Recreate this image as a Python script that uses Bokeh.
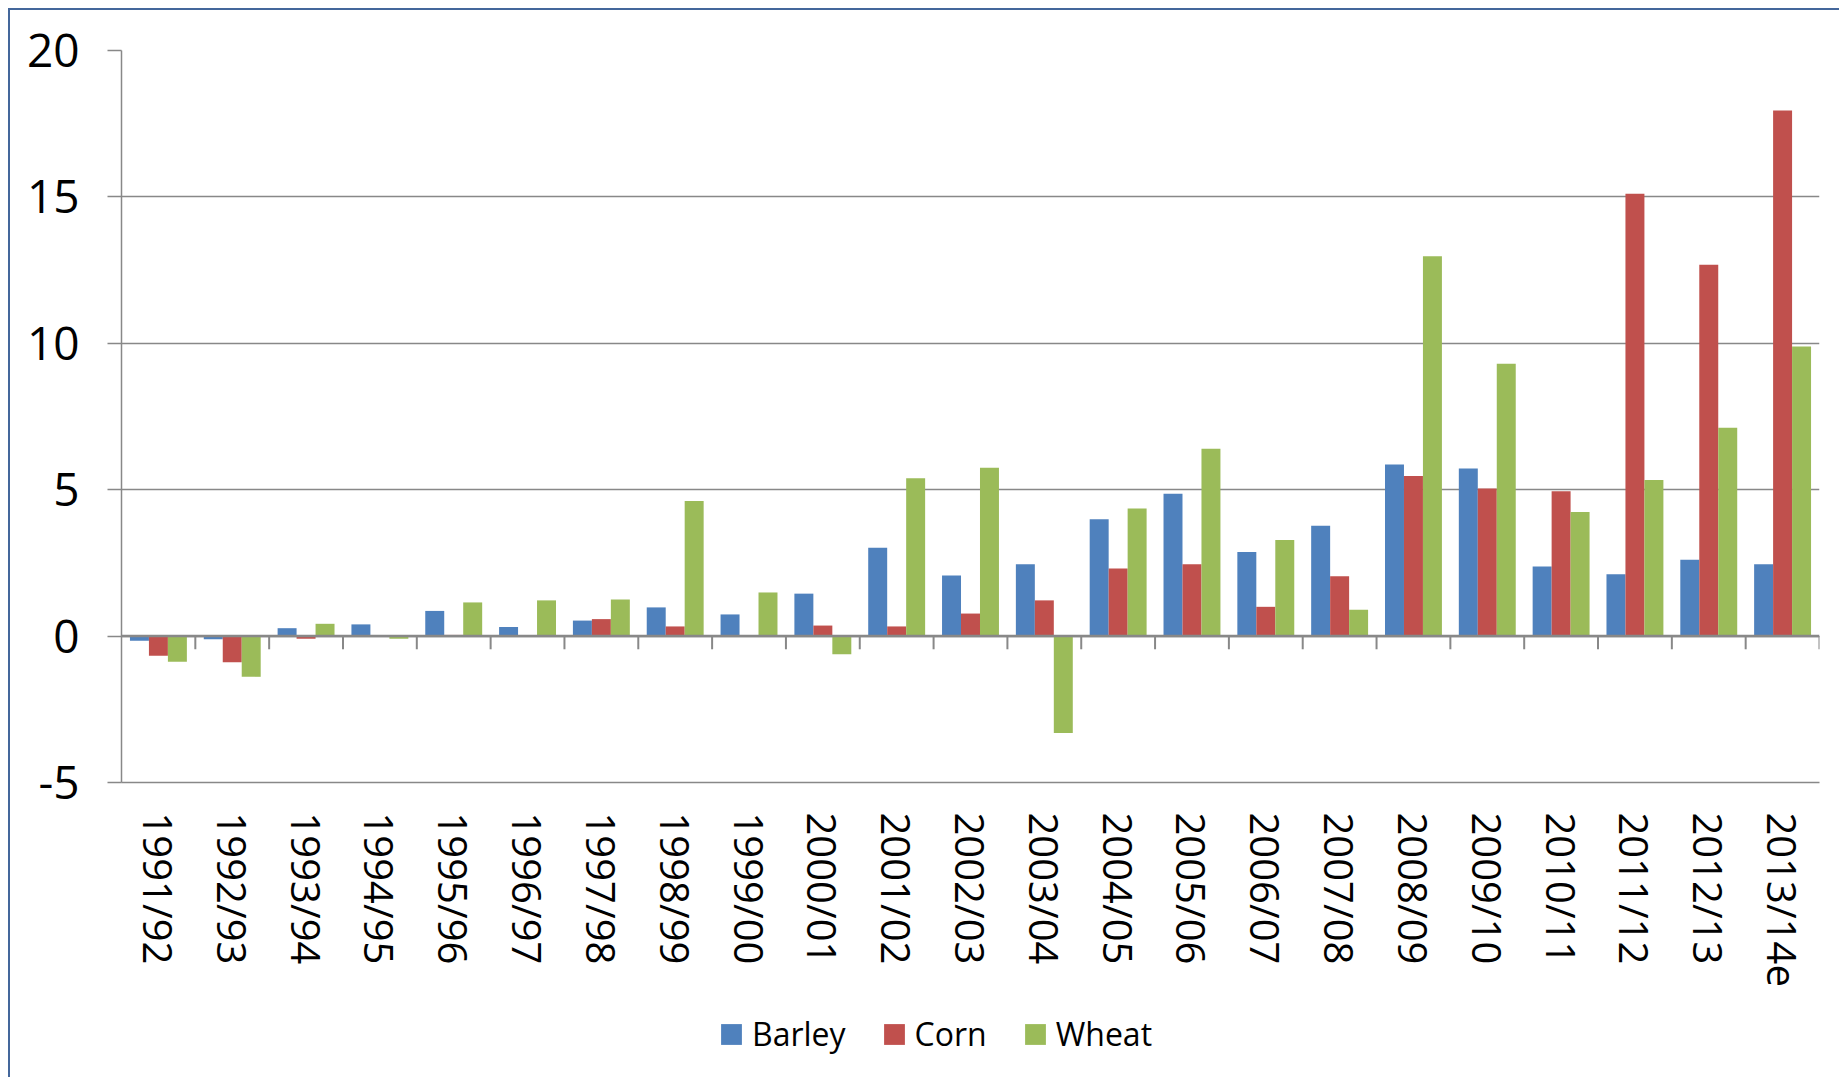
import math
from bokeh.plotting import figure
from bokeh.layouts import column
from bokeh.models import FactorRange, Range1d, FixedTicker, Legend, LegendItem, ColumnDataSource
from bokeh.transform import dodge
from bokeh.embed import file_html
from bokeh.resources import INLINE

years = ["1991/92", "1992/93", "1993/94", "1994/95", "1995/96", "1996/97", "1997/98",
         "1998/99", "1999/00", "2000/01", "2001/02", "2002/03", "2003/04", "2004/05",
         "2005/06", "2006/07", "2007/08", "2008/09", "2009/10", "2010/11", "2011/12",
         "2012/13", "2013/14e"]
barley = [-0.16, -0.11, 0.27, 0.40, 0.86, 0.31, 0.53, 0.98, 0.74, 1.45, 3.02, 2.07, 2.45,
          3.99, 4.86, 2.87, 3.77, 5.86, 5.72, 2.38, 2.11, 2.61, 2.45]
corn = [-0.67, -0.89, -0.09, 0.0, 0.04, 0.0, 0.58, 0.33, -0.02, 0.36, 0.33, 0.77, 1.22,
        2.31, 2.45, 1.00, 2.04, 5.47, 5.04, 4.95, 15.11, 12.68, 17.95]
wheat = [-0.88, -1.39, 0.42, -0.09, 1.15, 1.22, 1.25, 4.61, 1.49, -0.62, 5.39, 5.75, -3.31,
         4.36, 6.40, 3.28, 0.90, 12.97, 9.30, 4.24, 5.33, 7.12, 9.89]
series_names = ["Barley", "Corn", "Wheat"]
series_colors = ["#4F81BD", "#C0504D", "#9BBB59"]
y_ticks = [-5, 0, 5, 10, 15, 20]
y_tick_labels = ["-5", "0", "5", "10", "15", "20"]

FONT = "Open Sans"
GRID = "#888888"
BAR_W = 0.257

src = ColumnDataSource(dict(year=years, Barley=barley, Corn=corn, Wheat=wheat))

p = figure(width=1829, height=987, x_range=FactorRange(*years), y_range=Range1d(-5, 20),
           output_backend="svg", toolbar_location=None,
           min_border_left=111, min_border_top=40, min_border_right=20, min_border_bottom=215)
p.outline_line_color = None
p.background_fill_color = "white"
p.border_fill_color = "white"

for k, (name, col) in enumerate(zip(series_names, series_colors)):
    p.vbar(x=dodge("year", (k - 1) * BAR_W, range=p.x_range), top=name, bottom=0,
           width=BAR_W, source=src, fill_color=col, line_color=None)

# zero line and category tick marks on it
p.segment(x0=[0], x1=[len(years)], y0=[0], y1=[0], line_color=GRID, line_width=2.5)
bounds = list(range(1, len(years) + 1))
p.segment(x0=bounds, x1=bounds, y0=[0] * len(bounds), y1=[-0.45] * len(bounds),
          line_color=GRID, line_width=2)

p.xgrid.grid_line_color = None
p.ygrid.grid_line_color = GRID
p.ygrid.grid_line_width = 1.5
p.yaxis.ticker = FixedTicker(ticks=y_ticks)
p.yaxis.major_label_overrides = {t: s for t, s in zip(y_ticks, y_tick_labels)}
p.yaxis.axis_line_color = GRID
p.yaxis.axis_line_width = 1.5
p.yaxis.major_tick_line_color = GRID
p.yaxis.major_tick_line_width = 1.5
p.yaxis.major_tick_out = 14
p.yaxis.major_tick_in = 0
p.yaxis.minor_tick_line_color = None
p.yaxis.major_label_text_font = FONT
p.yaxis.major_label_text_font_size = "46px"
p.yaxis.major_label_text_color = "black"
p.yaxis.major_label_standoff = 28

p.xaxis.axis_line_color = GRID
p.xaxis.axis_line_width = 1.5
p.xaxis.major_tick_line_color = None
p.xaxis.major_tick_out = 0
p.xaxis.major_tick_in = 0
p.xaxis.major_label_orientation = -math.pi / 2
p.xaxis.major_label_text_font = FONT
p.xaxis.major_label_text_font_size = "40px"
p.xaxis.major_label_text_color = "black"
p.xaxis.major_label_standoff = 30

# legend in its own strip below the chart (bars there lie outside its visible range)
lg = figure(width=1829, height=80, x_range=p.x_range, y_range=Range1d(100, 101),
            output_backend="svg", toolbar_location=None, min_border=0)
lg.outline_line_color = None
lg.xaxis.visible = False
lg.yaxis.visible = False
lg.xgrid.grid_line_color = None
lg.ygrid.grid_line_color = None
lg_renderers = [lg.vbar(x="year", top=name, bottom=0, width=BAR_W, source=src,
                        fill_color=c, line_color=None)
                for name, c in zip(series_names, series_colors)]
legend = Legend(items=[LegendItem(label=n, renderers=[r]) for n, r in zip(series_names, lg_renderers)],
                orientation="horizontal", location=(597, 22),
                label_text_font=FONT, label_text_font_size="32px", label_text_color="black",
                glyph_width=26, glyph_height=26, label_standoff=8, spacing=35,
                padding=0, margin=0, border_line_color=None, background_fill_alpha=0)
lg.add_layout(legend, "center")

layout = column(p, lg, spacing=0)
layout.margin = (8, 0, 0, 8)
layout.styles = {"border-left": "2px solid #44679b", "border-top": "2px solid #44679b"}

open("out.html", "w").write(file_html(layout, INLINE))
